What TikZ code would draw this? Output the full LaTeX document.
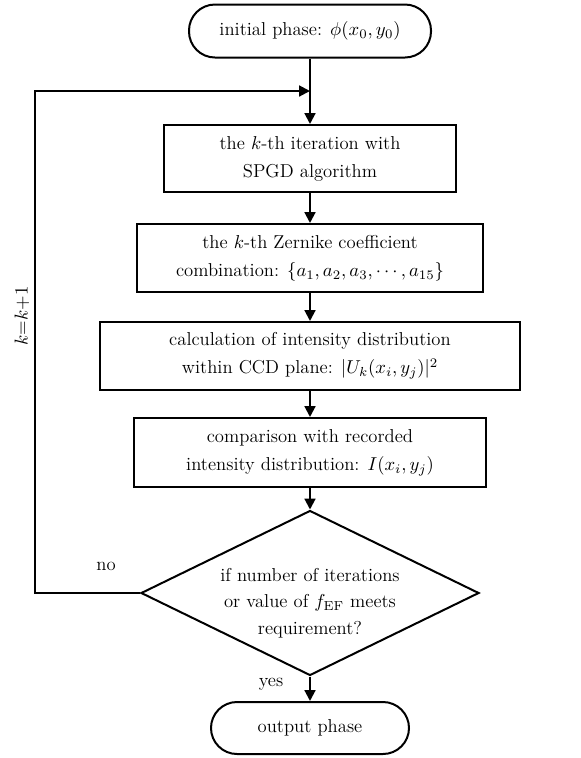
\RequirePackage{fix-cm}
\documentclass[tikz,border=0pt]{standalone}
\usetikzlibrary{arrows.meta,shapes.geometric}
\begin{document}
\begin{tikzpicture}[x=0.6pt,y=-0.6pt,
  every node/.style={font=\fontsize{11.2}{16.8}\selectfont},
  flowline/.style={line width=1.2pt},
  arr/.style={flowline,-{Triangle[length=6.5pt,width=6.5pt]}},
  procbox/.style={draw,line width=1.2pt,rectangle,align=center,inner sep=0pt},
  termbox/.style={draw,line width=1.2pt,rectangle,rounded corners=15.6pt,align=center,inner sep=0pt},
  decbox/.style={draw,line width=1.2pt,diamond,inner sep=0pt}]
\useasboundingbox (0,0) rectangle (581,758);
\node[termbox,minimum width=145.2pt,minimum height=31.8pt] (start) at (310,31) {initial phase: $\phi(x_0,y_0)$};
\node[procbox,minimum width=175.8pt,minimum height=40.2pt] (b1) at (310,158.5) {the $k$-th iteration with\\SPGD algorithm};
\node[procbox,minimum width=207.6pt,minimum height=40.8pt] (b2) at (310,258) {the $k$-th Zernike coefficient\\combination: $\{a_1,a_2,a_3,\cdots,a_{15}\}$};
\node[procbox,minimum width=252pt,minimum height=40.8pt] (b3) at (310,356) {calculation of intensity distribution\\within CCD plane: $|U_k(x_i,y_j)|^2$};
\node[procbox,minimum width=211.2pt,minimum height=41.4pt] (b4) at (310,452.5) {comparison with recorded\\intensity distribution: $I(x_i,y_j)$};
\node[decbox,minimum width=202.8pt,minimum height=99pt] (dec) at (310,593) {};
\node[align=center,font=\fontsize{11.2}{16}\selectfont] (dectext) at (310,603) {if number of iterations\\or value of $f_{\mathrm{EF}}$ meets\\requirement?};
\node[termbox,minimum width=118.8pt,minimum height=31.2pt] (end) at (310,728) {output phase};
\coordinate (join) at (310,91);
\coordinate (cornerA) at (35,593);
\coordinate (cornerB) at (35,91);
\draw[arr] (start.south) -- (b1.north);
\draw[arr] (b1.south) -- (b2.north);
\draw[arr] (b2.south) -- (b3.north);
\draw[arr] (b3.south) -- (b4.north);
\draw[arr] (b4.south) -- (dec.north);
\draw[arr] (dec.south) -- (end.north);
\draw[arr] (dec.west) -- (cornerA) -- (cornerB) -- (join);
\node (no) at (106,566) {no};
\node (yes) at (271,684) {yes};
\node[rotate=90] (kk) at (22,316) {$k{=}k{+}1$};
\end{tikzpicture}
\end{document}
